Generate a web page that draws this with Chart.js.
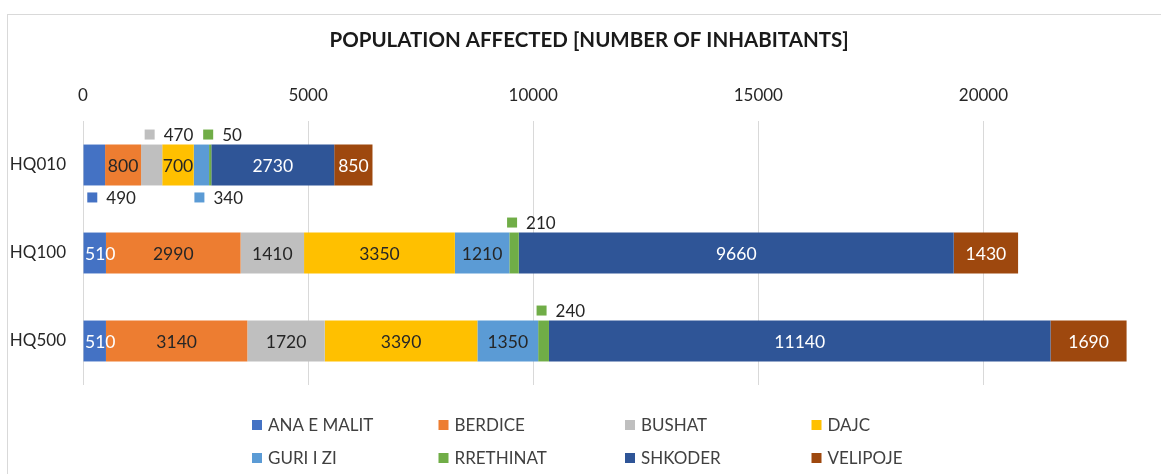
<!DOCTYPE html>
<html>
<head>
<meta charset="utf-8">
<script src="https://cdn.jsdelivr.net/npm/chart.js@4.4.1/dist/chart.umd.min.js"></script>
<style>
  html, body { margin: 0; padding: 0; background: #fff; overflow: hidden; }
  #wrap { position: relative; width: 1161px; height: 474px; }
</style>
</head>
<body>
<div id="wrap"><canvas id="chart"></canvas></div>
<script>
// Datos del gráfico
const titulo = "POPULATION AFFECTED [NUMBER OF INHABITANTS]";
const categorias = ["HQ010", "HQ100", "HQ500"];
const zonas = ["ANA E MALIT", "BERDICE", "BUSHAT", "DAJC", "GURI I ZI", "RRETHINAT", "SHKODER", "VELIPOJE"];
const anaEMalit = [490, 510, 510];
const berdice = [800, 2990, 3140];
const bushat = [470, 1410, 1720];
const dajc = [700, 3350, 3390];
const guriIZi = [340, 1210, 1350];
const rrethinat = [50, 210, 240];
const shkoder = [2730, 9660, 11140];
const velipoje = [850, 1430, 1690];
const ticksX = [0, 5000, 10000, 15000, 20000];
const xMax = 23700;

// Estilos
const colores = ["#4472C4", "#ED7D31", "#BFBFBF", "#FFC000", "#5B9BD5", "#70AD47", "#2F5597", "#9E480E"];
const textoBlanco = [true, false, false, false, false, false, true, true];
// etiquetas que van fuera de la barra: [serie, categoria, lado]
const etiquetasFuera = [[0, 0, "below"], [2, 0, "above"], [4, 0, "below"], [5, 0, "above"], [5, 1, "above"], [5, 2, "above"]];
const FUENTE = "Lato, 'Open Sans', sans-serif";

const series = [anaEMalit, berdice, bushat, dajc, guriIZi, rrethinat, shkoder, velipoje];

// fondo, borde del recuadro y título
const marco = {
  id: "marco",
  beforeDraw(chart) {
    const ctx = chart.ctx;
    ctx.save();
    ctx.fillStyle = "#fff";
    ctx.fillRect(0, 0, chart.width, chart.height);
    ctx.strokeStyle = "#d9d9d9";
    ctx.lineWidth = 1;
    ctx.strokeRect(7.5, 14.5, 1300, 600);
    ctx.fillStyle = "#1a1a1a";
    ctx.font = "bold 20.5px " + FUENTE;
    ctx.textAlign = "center";
    ctx.textBaseline = "middle";
    ctx.fillText(titulo, 589, 40);
    ctx.restore();
  }
};

const etiquetas = {
  id: "etiquetas",
  afterDatasetsDraw(chart) {
    const ctx = chart.ctx;
    const area = chart.chartArea;
    ctx.save();
    ctx.textBaseline = "middle";
    chart.data.datasets.forEach((ds, i) => {
      const meta = chart.getDatasetMeta(i);
      meta.data.forEach((bar, j) => {
        const valor = ds.data[j];
        const centro = (bar.x + bar.base) / 2;
        const fuera = etiquetasFuera.find(e => e[0] === i && e[1] === j);
        const txt = String(valor);
        if (fuera) {
          ctx.font = "17px " + FUENTE;
          const y = fuera[2] === "above" ? bar.y - bar.height / 2 - 10 : bar.y + bar.height / 2 + 12;
          const x0 = centro - 7;
          ctx.fillStyle = colores[i];
          ctx.fillRect(x0, y - 5, 10, 10);
          ctx.fillStyle = "#262626";
          ctx.textAlign = "left";
          ctx.fillText(txt, x0 + 19, y + 1);
        } else {
          ctx.font = "17.5px " + FUENTE;
          const w = ctx.measureText(txt).width;
          const x = Math.max(centro, area.left + w / 2 + 2);
          ctx.fillStyle = textoBlanco[i] ? "#fff" : "#262626";
          ctx.textAlign = "center";
          ctx.fillText(txt, x, bar.y + 1);
        }
      });
    });
    ctx.restore();
  }
};

const leyenda = {
  id: "leyenda",
  afterDraw(chart) {
    const ctx = chart.ctx;
    ctx.save();
    ctx.font = "17px " + FUENTE;
    ctx.textBaseline = "middle";
    ctx.textAlign = "left";
    chart.data.datasets.forEach((ds, i) => {
      const col = i % 4;
      const fila = Math.floor(i / 4);
      const x = 252 + col * 186.5;
      const y = 425 + fila * 33;
      ctx.fillStyle = ds.backgroundColor;
      ctx.fillRect(x, y - 5, 10, 10);
      ctx.fillStyle = "#404040";
      ctx.fillText(ds.label, x + 16, y + 1);
    });
    ctx.restore();
  }
};

new Chart(document.getElementById("chart"), {
  type: "bar",
  data: {
    labels: categorias,
    datasets: zonas.map((z, i) => ({
      label: z,
      data: series[i],
      backgroundColor: colores[i],
      borderWidth: 0,
      categoryPercentage: 1,
      barPercentage: 0.465
    }))
  },
  options: {
    indexAxis: "y",
    responsive: true,
    maintainAspectRatio: false,
    animation: false,
    layout: { padding: { left: 8, right: 11, top: 51, bottom: 89 } },
    plugins: {
      legend: { display: false },
      tooltip: { enabled: false },
      title: { display: false }
    },
    scales: {
      x: {
        position: "top",
        stacked: true,
        min: 0,
        max: xMax,
        afterBuildTicks: scale => { scale.ticks = ticksX.map(v => ({ value: v })); },
        afterFit: scale => { scale.height = 70; },
        grid: { color: "#d9d9d9", drawTicks: false },
        border: { display: false },
        ticks: {
          padding: 15,
          color: "#262626",
          font: { family: FUENTE, size: 17 },
          maxRotation: 0,
          callback: v => String(v)
        }
      },
      y: {
        stacked: true,
        afterFit: scale => { scale.width = 75; },
        grid: { display: false, drawTicks: false },
        border: { display: false },
        ticks: {
          padding: 17,
          color: "#262626",
          font: { family: FUENTE, size: 17 }
        }
      }
    }
  },
  plugins: [marco, etiquetas, leyenda]
});
</script>
</body>
</html>
